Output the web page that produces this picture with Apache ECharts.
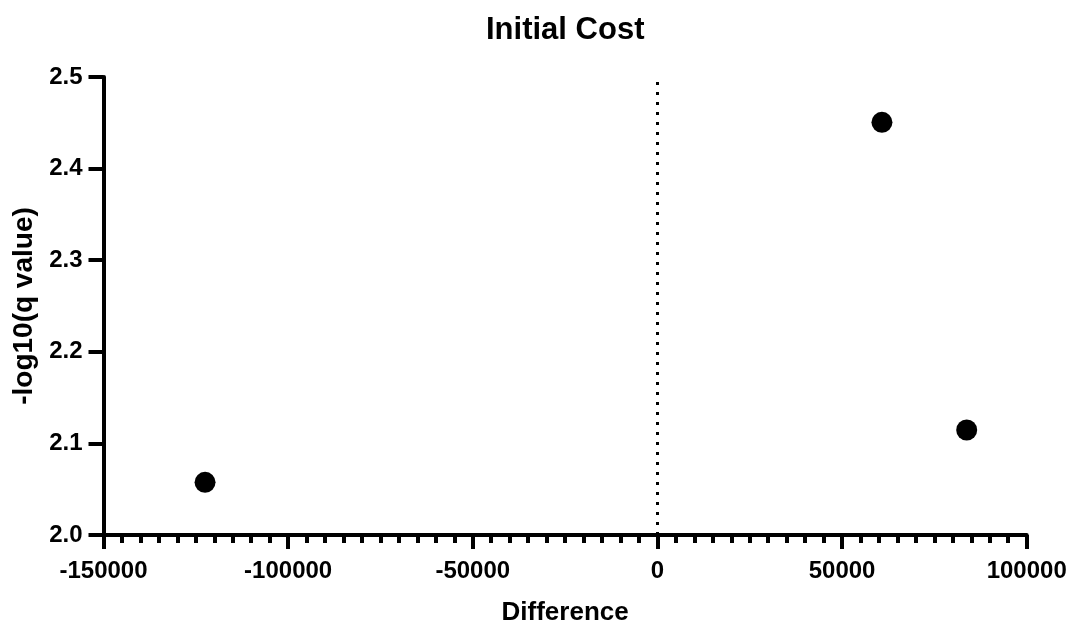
<!DOCTYPE html>
<html>
<head>
<meta charset="utf-8">
<script src="https://cdn.jsdelivr.net/npm/echarts@6/dist/echarts.min.js"></script>
<style>html,body{margin:0;padding:0;background:#fff}#c{width:1071px;height:623px}</style>
</head>
<body>
<div id="c"></div>
<script>
const differences = [-122500, 60800, 83750];
const negLogQ = [2.0575, 2.4505, 2.1146];
const xTicks = [-150000, -100000, -50000, 0, 50000, 100000];
const yTicks = [2.0, 2.1, 2.2, 2.3, 2.4, 2.5];

const font = '"Liberation Sans", Arial, sans-serif';
const chart = echarts.init(document.getElementById('c'), null, {renderer: 'canvas'});
const points = differences.map((d, i) => [d, negLogQ[i]]);
chart.setOption({
  animation: false,
  backgroundColor: '#fff',
  title: {
    text: 'Initial Cost', left: 481, top: 10,
    textStyle: {fontFamily: font, fontWeight: 'bold', fontSize: 31, color: '#000'}
  },
  grid: {left: 103.5, right: 44.3, top: 77, bottom: 88, containLabel: false, outerBoundsMode: 'none'},
  xAxis: {
    type: 'value', min: xTicks[0], max: xTicks[xTicks.length - 1], interval: 50000,
    name: 'Difference', nameLocation: 'middle', nameGap: 65,
    nameTextStyle: {fontFamily: font, fontWeight: 'bold', fontSize: 26, color: '#000'},
    axisLine: {show: true, onZero: false, lineStyle: {color: '#000', width: 4}},
    axisTick: {show: true, length: 14, lineStyle: {color: '#000', width: 4}},
    minorTick: {show: true, splitNumber: 10, length: 8, lineStyle: {color: '#000', width: 4}},
    axisLabel: {fontFamily: font, fontWeight: 'bold', fontSize: 24, color: '#000', margin: 24,
      formatter: v => String(v)},
    splitLine: {show: false}
  },
  yAxis: {
    type: 'value', min: yTicks[0], max: yTicks[yTicks.length - 1], interval: 0.1,
    name: '-log10(q value)', nameLocation: 'middle', nameGap: 65, nameRotate: 90,
    nameTextStyle: {fontFamily: font, fontWeight: 'bold', fontSize: 28, color: '#000'},
    axisLine: {show: true, onZero: false, lineStyle: {color: '#000', width: 4}},
    axisTick: {show: true, length: 15, lineStyle: {color: '#000', width: 4}},
    axisLabel: {fontFamily: font, fontWeight: 'bold', fontSize: 24, color: '#000', margin: 21,
      formatter: v => v.toFixed(1)},
    splitLine: {show: false}
  },
  series: [{
    type: 'scatter',
    data: points,
    symbol: 'circle', symbolSize: 21,
    itemStyle: {color: '#000', opacity: 1},
    markLine: {
      silent: true, symbol: ['none', 'none'], label: {show: false},
      lineStyle: {color: '#000', width: 3, type: [3, 7]},
      data: [{xAxis: 0}]
    }
  }]
});
</script>
</body>
</html>
